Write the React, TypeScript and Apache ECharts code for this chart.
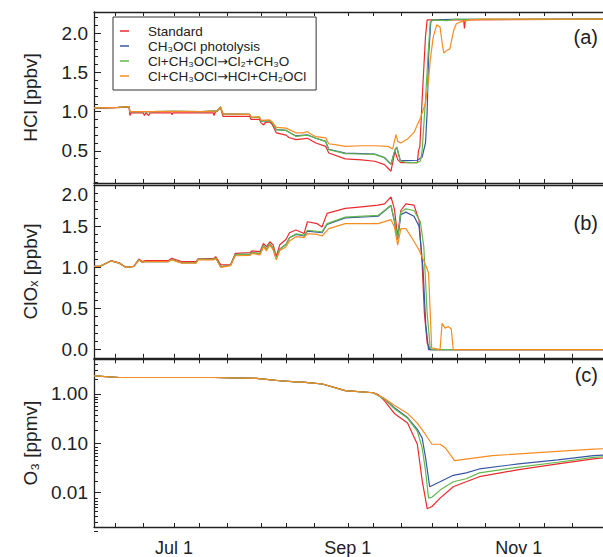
import React, { useEffect, useRef } from "react";
import * as echarts from "echarts";

const FONT = "'Liberation Sans', Arial, Helvetica, 'DejaVu Sans', sans-serif";

// Series identity
const seriesNames = ["Standard", "CH₃OCl photolysis", "Cl+CH₃OCl→Cl₂+CH₃O", "Cl+CH₃OCl→HCl+CH₂OCl"];
const seriesColors = ["#ec2a2d", "#3a57a6", "#62b84a", "#f68c22"];

// X axis: days since Jun 1
const xMin = 1.5;
const xMax = 183;
const xTickDays = [9, 19, 30, 39, 49, 61, 70, 80, 92, 101, 111, 122, 131, 141, 153, 162, 172];
const xLabelDays = [30, 92, 153];
const xLabelTexts = ["Jul 1", "Sep 1", "Nov 1"];

// Y ticks
const hclTicks = [0.5, 1.0, 1.5, 2.0];
const hclMinorTicks = [0.1, 0.2, 0.3, 0.4, 0.6, 0.7, 0.8, 0.9, 1.1, 1.2, 1.3, 1.4, 1.6, 1.7, 1.8, 1.9, 2.1, 2.2];
const cloxTicks = [0.0, 0.5, 1.0, 1.5, 2.0];
const cloxMinorTicks = [0.1, 0.2, 0.3, 0.4, 0.6, 0.7, 0.8, 0.9, 1.1, 1.2, 1.3, 1.4, 1.6, 1.7, 1.8, 1.9];
const o3Ticks = [0.01, 0.1, 1.0];
const o3MinorTicks = [
  0.002, 0.003, 0.004, 0.005, 0.006, 0.007, 0.008, 0.009,
  0.02, 0.03, 0.04, 0.05, 0.06, 0.07, 0.08, 0.09,
  0.2, 0.3, 0.4, 0.5, 0.6, 0.7, 0.8, 0.9,
  2, 3, 4, 5,
];

// ---- Panel (a): HCl [ppbv]  ([day, value]) ----
const hclEarly = [
  [1.5, 1.045], [5, 1.05], [10, 1.055], [14, 1.065], [14.3, 1.0], [20, 1.0], [22, 1.0], [30, 1.005],
  [40, 1.0], [45.5, 1.01], [46.6, 1.06], [47.5, 0.97], [57, 0.965],
];
const hclStandard = [
  [1.5, 1.04], [5, 1.045], [10, 1.05], [14, 1.06], [14.3, 0.95], [14.8, 0.985], [19, 0.985], [19.5, 0.95],
  [20, 0.985], [21, 0.95], [21.5, 0.985], [29, 0.985], [29.3, 0.96], [29.6, 0.985], [44, 0.985], [44.3, 0.95],
  [44.6, 0.985], [46.6, 1.05], [47.5, 0.94], [57, 0.94], [57.5, 0.9], [60.5, 0.9], [61, 0.86], [62, 0.83],
  [62.5, 0.86], [64, 0.87], [65, 0.84], [66.5, 0.73], [70, 0.7], [71, 0.67], [73.5, 0.643], [77.6, 0.66],
  [80.6, 0.6], [84.1, 0.557], [85.2, 0.473], [91.1, 0.397], [96.9, 0.385], [101.6, 0.367], [105.1, 0.325],
  [107.4, 0.24], [108.8, 0.494], [109.8, 0.388], [110.9, 0.35], [116.8, 0.35], [117.2, 0.5], [117.7, 0.557],
  [118.5, 1.15], [119.7, 1.957], [120.3, 2.17], [133.3, 2.17], [133.6, 2.06], [133.9, 2.17], [183, 2.178],
];
const hclPhotolysis = [
  ...hclEarly,
  [57.5, 0.925], [60.5, 0.925], [61, 0.88], [64, 0.885], [65, 0.86], [66.5, 0.77], [70, 0.76], [73.5, 0.69],
  [77.6, 0.705], [80.6, 0.66], [84.1, 0.62], [85.2, 0.52], [91.1, 0.47], [96.9, 0.465], [101.6, 0.46],
  [105.1, 0.415], [107.4, 0.33], [108.8, 0.51], [109.5, 0.54], [110.7, 0.38], [113.3, 0.375], [116.8, 0.38],
  [118.5, 0.42], [119.7, 0.6], [120.3, 1.0], [120.8, 1.7], [121.6, 2.15], [122.5, 2.17], [130, 2.175], [183, 2.178],
];
const hclCl2 = [
  ...hclEarly,
  [57.5, 0.925], [60.5, 0.925], [61, 0.88], [64, 0.885], [65, 0.86], [66.5, 0.77], [70, 0.76], [73.5, 0.685],
  [77.6, 0.7], [80.6, 0.66], [84.1, 0.62], [85.2, 0.515], [91.1, 0.465], [96.9, 0.46], [101.6, 0.455],
  [105.1, 0.41], [107.4, 0.325], [108.8, 0.515], [109.5, 0.55], [110.7, 0.37], [113.3, 0.35], [116.8, 0.35],
  [117.9, 0.37], [118.5, 0.5], [119.7, 1.15], [120.5, 1.66], [121.4, 2.14], [122.5, 2.17], [127.2, 2.16],
  [130, 2.175], [183, 2.178],
];
const hclHCl = [
  ...hclEarly,
  [57.5, 0.93], [60.5, 0.935], [61, 0.89], [64, 0.895], [65, 0.87], [66.5, 0.8], [70, 0.79], [73.5, 0.73],
  [76, 0.73], [77.6, 0.745], [78.5, 0.72], [80.6, 0.68], [84.1, 0.665], [85.2, 0.59], [88, 0.575],
  [91.1, 0.557], [96.9, 0.565], [101.6, 0.565], [106.3, 0.557], [108, 0.524], [109.2, 0.706], [109.8, 0.621],
  [110.9, 0.6], [113.3, 0.65], [115.6, 0.735], [117.9, 0.918], [119.7, 1.109], [120.8, 1.406], [121.4, 1.66],
  [122.5, 1.957], [123.7, 2.106], [124.9, 2.08], [125.8, 1.83], [126.3, 1.745], [127.2, 1.78], [128.4, 1.8],
  [129.3, 1.96], [129.8, 2.04], [130.7, 2.12], [131.9, 2.14], [135.4, 2.17], [140, 2.178], [183, 2.178],
];

// ---- Panel (b): ClOx [ppbv] ----
const cloxStandard = [
  [1.5, 1.01], [3.5, 1.01], [7.5, 1.08], [10.5, 1.055], [12.8, 1.0], [15.7, 1.01], [17.5, 1.1], [18.7, 1.07],
  [19.8, 1.08], [28, 1.08], [29.2, 1.11], [32.7, 1.07], [37.9, 1.07], [38.5, 1.1], [44.3, 1.11], [44.9, 1.13],
  [46.7, 1.03], [50.2, 1.03], [51.9, 1.17], [57.2, 1.18], [57.8, 1.2], [60.7, 1.19], [61.9, 1.29], [63, 1.25],
  [64.2, 1.31], [65.4, 1.27], [66.5, 1.13], [67.7, 1.27], [70, 1.34], [71.2, 1.42], [73.5, 1.453], [76.4, 1.41],
  [77.6, 1.553], [81.1, 1.53], [82.8, 1.49], [84.6, 1.655], [91.1, 1.715], [96.9, 1.735], [102.8, 1.755],
  [105.1, 1.77], [107.4, 1.856], [108.6, 1.71], [109.8, 1.372], [110.9, 1.69], [112.7, 1.77], [115.6, 1.755],
  [117.4, 1.57], [118.5, 1.05], [119.3, 0.444], [120.3, 0.08], [121.4, 0.0], [183, 0.0],
];
const cloxPhotolysis = [
  [1.5, 1.01], [3.5, 1.01], [7.5, 1.077], [10.5, 1.05], [12.8, 1.0], [15.7, 1.01], [17.5, 1.09], [18.7, 1.06],
  [19.8, 1.07], [28, 1.07], [29.2, 1.095], [32.7, 1.055], [37.9, 1.055], [38.5, 1.095], [44.3, 1.095], [44.9, 1.115],
  [46.7, 1.005], [50.2, 1.025], [51.9, 1.155], [57.2, 1.16], [57.8, 1.18], [60.7, 1.165], [61.9, 1.265], [63, 1.22],
  [64.2, 1.285], [65.4, 1.23], [66.5, 1.11], [67.7, 1.22], [70, 1.28], [71.2, 1.36], [73.5, 1.4], [76.4, 1.38],
  [77.6, 1.44], [82.8, 1.42], [84.6, 1.52], [91.1, 1.6], [102.8, 1.62], [107.4, 1.75], [108.6, 1.56], [109.8, 1.34],
  [110.9, 1.64], [112.7, 1.67], [115.6, 1.62], [117.4, 1.5], [118.8, 1.0], [119.8, 0.3], [120.8, 0.0], [183, 0.0],
];
const cloxCl2 = [
  [1.5, 1.01], [3.5, 1.01], [7.5, 1.077], [10.5, 1.05], [12.8, 1.0], [15.7, 1.01], [17.5, 1.09], [18.7, 1.06],
  [19.8, 1.07], [28, 1.07], [29.2, 1.095], [32.7, 1.055], [37.9, 1.055], [38.5, 1.095], [44.3, 1.095], [44.9, 1.115],
  [46.7, 1.005], [50.2, 1.025], [51.9, 1.155], [57.2, 1.16], [57.8, 1.18], [60.7, 1.165], [61.9, 1.265], [63, 1.22],
  [64.2, 1.285], [65.4, 1.23], [66.5, 1.11], [67.7, 1.22], [70, 1.28], [71.2, 1.36], [73.5, 1.405], [76.4, 1.39],
  [77.6, 1.45], [82.8, 1.43], [84.6, 1.53], [91.1, 1.61], [102.8, 1.63], [107.4, 1.755], [108.6, 1.57],
  [109.8, 1.35], [110.9, 1.67], [112.7, 1.71], [115.6, 1.69], [117.9, 1.55], [119.1, 1.25], [120.3, 0.44],
  [121.4, 0.02], [122, 0.0], [183, 0.0],
];
const cloxHCl = [
  [1.5, 1.01], [3.5, 1.01], [7.5, 1.077], [10.5, 1.05], [12.8, 1.0], [15.7, 1.01], [17.5, 1.09], [18.7, 1.06],
  [19.8, 1.07], [28, 1.07], [29.2, 1.09], [32.7, 1.05], [37.9, 1.05], [38.5, 1.09], [44.3, 1.09], [44.9, 1.11],
  [46.7, 1.0], [50.2, 1.02], [51.9, 1.14], [57.2, 1.145], [57.8, 1.17], [60.7, 1.15], [61.9, 1.25], [63, 1.2],
  [64.2, 1.27], [65.4, 1.21], [66.5, 1.09], [67.7, 1.2], [70, 1.25], [71.2, 1.32], [73.5, 1.372], [76.4, 1.36],
  [77.6, 1.41], [81.1, 1.4], [82.8, 1.38], [85.2, 1.47], [91.1, 1.53], [102.8, 1.53], [107.4, 1.58], [108.6, 1.49],
  [109.8, 1.27], [110.9, 1.47], [112.7, 1.47], [115, 1.35], [117.4, 1.21], [119.7, 1.03], [120.8, 0.93],
  [121.4, 0.44], [121.9, 0.02], [124.9, 0.0], [125.6, 0.32], [126.7, 0.26], [127.8, 0.28], [128.9, 0.25],
  [129.6, 0.0], [183, 0.0],
];

// ---- Panel (c): O3 [ppmv] ----
const o3Early = [
  [1.5, 2.31], [10.5, 2.14], [44.3, 2.14], [59.5, 2.05], [67.7, 1.84], [73.5, 1.74], [76, 1.72],
  [82.9, 1.58], [91.1, 1.16], [101.1, 1.05],
];
const o3Standard = [
  ...o3Early, [103, 0.95], [105.1, 0.72], [108.6, 0.4], [113.3, 0.255], [116.8, 0.095], [118.5, 0.0178],
  [120.3, 0.0047], [122, 0.0052], [124.9, 0.0077], [129.6, 0.0131], [134.2, 0.0165], [138.9, 0.0209],
  [152.9, 0.029], [166.9, 0.038], [179.6, 0.048], [183, 0.05],
];
const o3Photolysis = [
  ...o3Early, [105.1, 0.79], [108.6, 0.52], [113.3, 0.33], [116.8, 0.19], [118.5, 0.128], [119.7, 0.052],
  [121.2, 0.0131], [124.9, 0.0165], [129.6, 0.0223], [134.2, 0.025], [138.9, 0.03], [152.9, 0.038],
  [166.9, 0.0457], [179.6, 0.0557], [183, 0.057],
];
const o3Cl2 = [
  ...o3Early, [105.1, 0.78], [108.6, 0.5], [113.3, 0.32], [116.8, 0.174], [118.5, 0.081], [119.7, 0.028],
  [120.8, 0.0077], [122, 0.008], [124.9, 0.0112], [129.6, 0.0165], [134.2, 0.019], [138.9, 0.025],
  [152.9, 0.0327], [166.9, 0.041], [179.6, 0.0516], [183, 0.053],
];
const o3HCl = [
  ...o3Early, [105.1, 0.8], [108.6, 0.587], [113.3, 0.4], [116.8, 0.255], [119.7, 0.15], [122, 0.095],
  [124.9, 0.095], [126.7, 0.081], [130.1, 0.0444], [143.5, 0.0557], [161, 0.0649], [179.6, 0.0755], [183, 0.077],
];

const panels = [
  {
    top: 12, height: 171, type: "value", min: 0.09, max: 2.27, name: "HCl [ppbv]",
    ticks: hclTicks, minor: hclMinorTicks, digits: 1, tag: "(a)", tagY: 37, topLabel: "middle",
    data: [hclStandard, hclPhotolysis, hclCl2, hclHCl],
  },
  {
    top: 185, height: 172.8, type: "value", min: -0.1, max: 2.0, name: "ClOₓ [ppbv]",
    ticks: cloxTicks, minor: cloxMinorTicks, digits: 1, tag: "(b)", tagY: 223, topLabel: "top",
    data: [cloxStandard, cloxPhotolysis, cloxCl2, cloxHCl],
  },
  {
    top: 359.3, height: 172.2, type: "log", min: 0.002, max: 5, name: "O₃ [ppmv]",
    ticks: o3Ticks, minor: o3MinorTicks, digits: 2, tag: "(c)", tagY: 375, topLabel: "middle",
    data: [o3Standard, o3Photolysis, o3Cl2, o3HCl],
  },
];

const AX = "#222";
const GRID_LEFT = 94;
const GRID_WIDTH = 518;

function buildOption() {
  const grid: any[] = [];
  const xAxis: any[] = [];
  const yAxis: any[] = [];
  const series: any[] = [];
  const graphic: any[] = [];

  panels.forEach((p) => {
    grid.push({ left: GRID_LEFT, top: p.top, width: GRID_WIDTH, height: p.height });
  });
  panels.forEach((p) => {
    grid.push({ left: GRID_LEFT, top: p.top, width: GRID_WIDTH, height: p.height });
  });

  panels.forEach((p, i) => {
    const isLast = i === panels.length - 1;
    xAxis.push({
      type: "value", gridIndex: i, position: "bottom", min: xMin, max: xMax,
      axisLine: { show: true, onZero: false, lineStyle: { color: AX, width: 1.3 } },
      axisTick: { show: true, inside: true, length: 4, customValues: xTickDays, lineStyle: { color: AX, width: 1 } },
      axisLabel: {
        show: isLast, customValues: xLabelDays, margin: 12, color: AX, fontSize: 18, fontFamily: FONT,
        formatter: (v: number) => {
          const k = xLabelDays.findIndex((d) => Math.abs(d - v) < 0.01);
          return k >= 0 ? xLabelTexts[k] : "";
        },
      },
      splitLine: { show: false },
    });
    xAxis.push({
      type: "value", gridIndex: i, position: "top", min: xMin, max: xMax,
      axisLine: { show: true, onZero: false, lineStyle: { color: AX, width: 1.3 } },
      axisTick: { show: true, inside: true, length: 4, customValues: xTickDays, lineStyle: { color: AX, width: 1 } },
      axisLabel: { show: false },
      splitLine: { show: false },
    });
  });
  panels.forEach((p, i) => {
    xAxis.push({ type: "value", gridIndex: 3 + i, min: xMin, max: xMax, show: false });
  });

  panels.forEach((p, i) => {
    yAxis.push({
      type: p.type, gridIndex: i, position: "left", min: p.min, max: p.max,
      name: p.name, nameLocation: "middle", nameGap: 54,
      nameTextStyle: { color: AX, fontSize: 19, fontFamily: FONT },
      axisLine: { show: true, onZero: false, lineStyle: { color: AX, width: 1.3 } },
      axisTick: { show: true, inside: true, length: 7, customValues: p.ticks, lineStyle: { color: AX, width: 1 } },
      axisLabel: {
        customValues: p.ticks, margin: 6, color: AX, fontSize: 19, fontFamily: FONT,
        verticalAlignMaxLabel: p.topLabel,
        formatter: (v: number) => Number(v).toFixed(p.digits),
      },
      splitLine: { show: false },
      minorTick: { show: false },
    });
  });
  panels.forEach((p, i) => {
    yAxis.push({
      type: p.type, gridIndex: 3 + i, position: "left", min: p.min, max: p.max,
      axisLine: { show: false },
      axisTick: { show: true, inside: true, length: 4, customValues: p.minor, lineStyle: { color: AX, width: 1 } },
      axisLabel: { show: false },
      splitLine: { show: false },
    });
  });

  panels.forEach((p, i) => {
    p.data.forEach((d, s) => {
      series.push({
        type: "line", name: seriesNames[s], xAxisIndex: i * 2, yAxisIndex: i, data: d,
        showSymbol: false, symbol: "none", smooth: false,
        lineStyle: { color: seriesColors[s], width: 1.2 },
        itemStyle: { color: seriesColors[s] },
        emphasis: { disabled: true },
        z: 2 + s,
      });
    });
    graphic.push({
      type: "text", x: 598, y: p.tagY, z: 10,
      style: { text: p.tag, fill: AX, fontSize: 20, fontFamily: FONT, align: "right", verticalAlign: "middle" },
    });
  });

  return {
    animation: false,
    backgroundColor: "#fff",
    grid, xAxis, yAxis, series, graphic,
    legend: {
      data: seriesNames, orient: "vertical", left: 113, top: 17, selectedMode: false,
      icon: "rect", itemWidth: 9, itemHeight: 1.5, itemGap: 1,
      padding: [7, 10, 7, 7], borderColor: "#333", borderWidth: 1, backgroundColor: "#fff",
      formatter: (name: string) => name.split("→").join("{arr|→}"),
      textStyle: {
        color: AX, fontSize: 13.5, fontFamily: FONT, padding: [0, 0, 0, 14],
        rich: { arr: { fontFamily: "'DejaVu Sans'", fontSize: 13, color: AX } },
      },
      z: 20,
    },
  };
}

export default function App() {
  const ref = useRef<HTMLDivElement>(null);
  useEffect(() => {
    const chart = echarts.init(ref.current!, null, { renderer: "svg" });
    chart.setOption(buildOption() as any);
    return () => chart.dispose();
  }, []);
  return (
    <div
      ref={ref}
      style={{ position: "fixed", left: 0, top: 0, width: 603, height: 557, background: "#fff", overflow: "hidden" }}
    />
  );
}
